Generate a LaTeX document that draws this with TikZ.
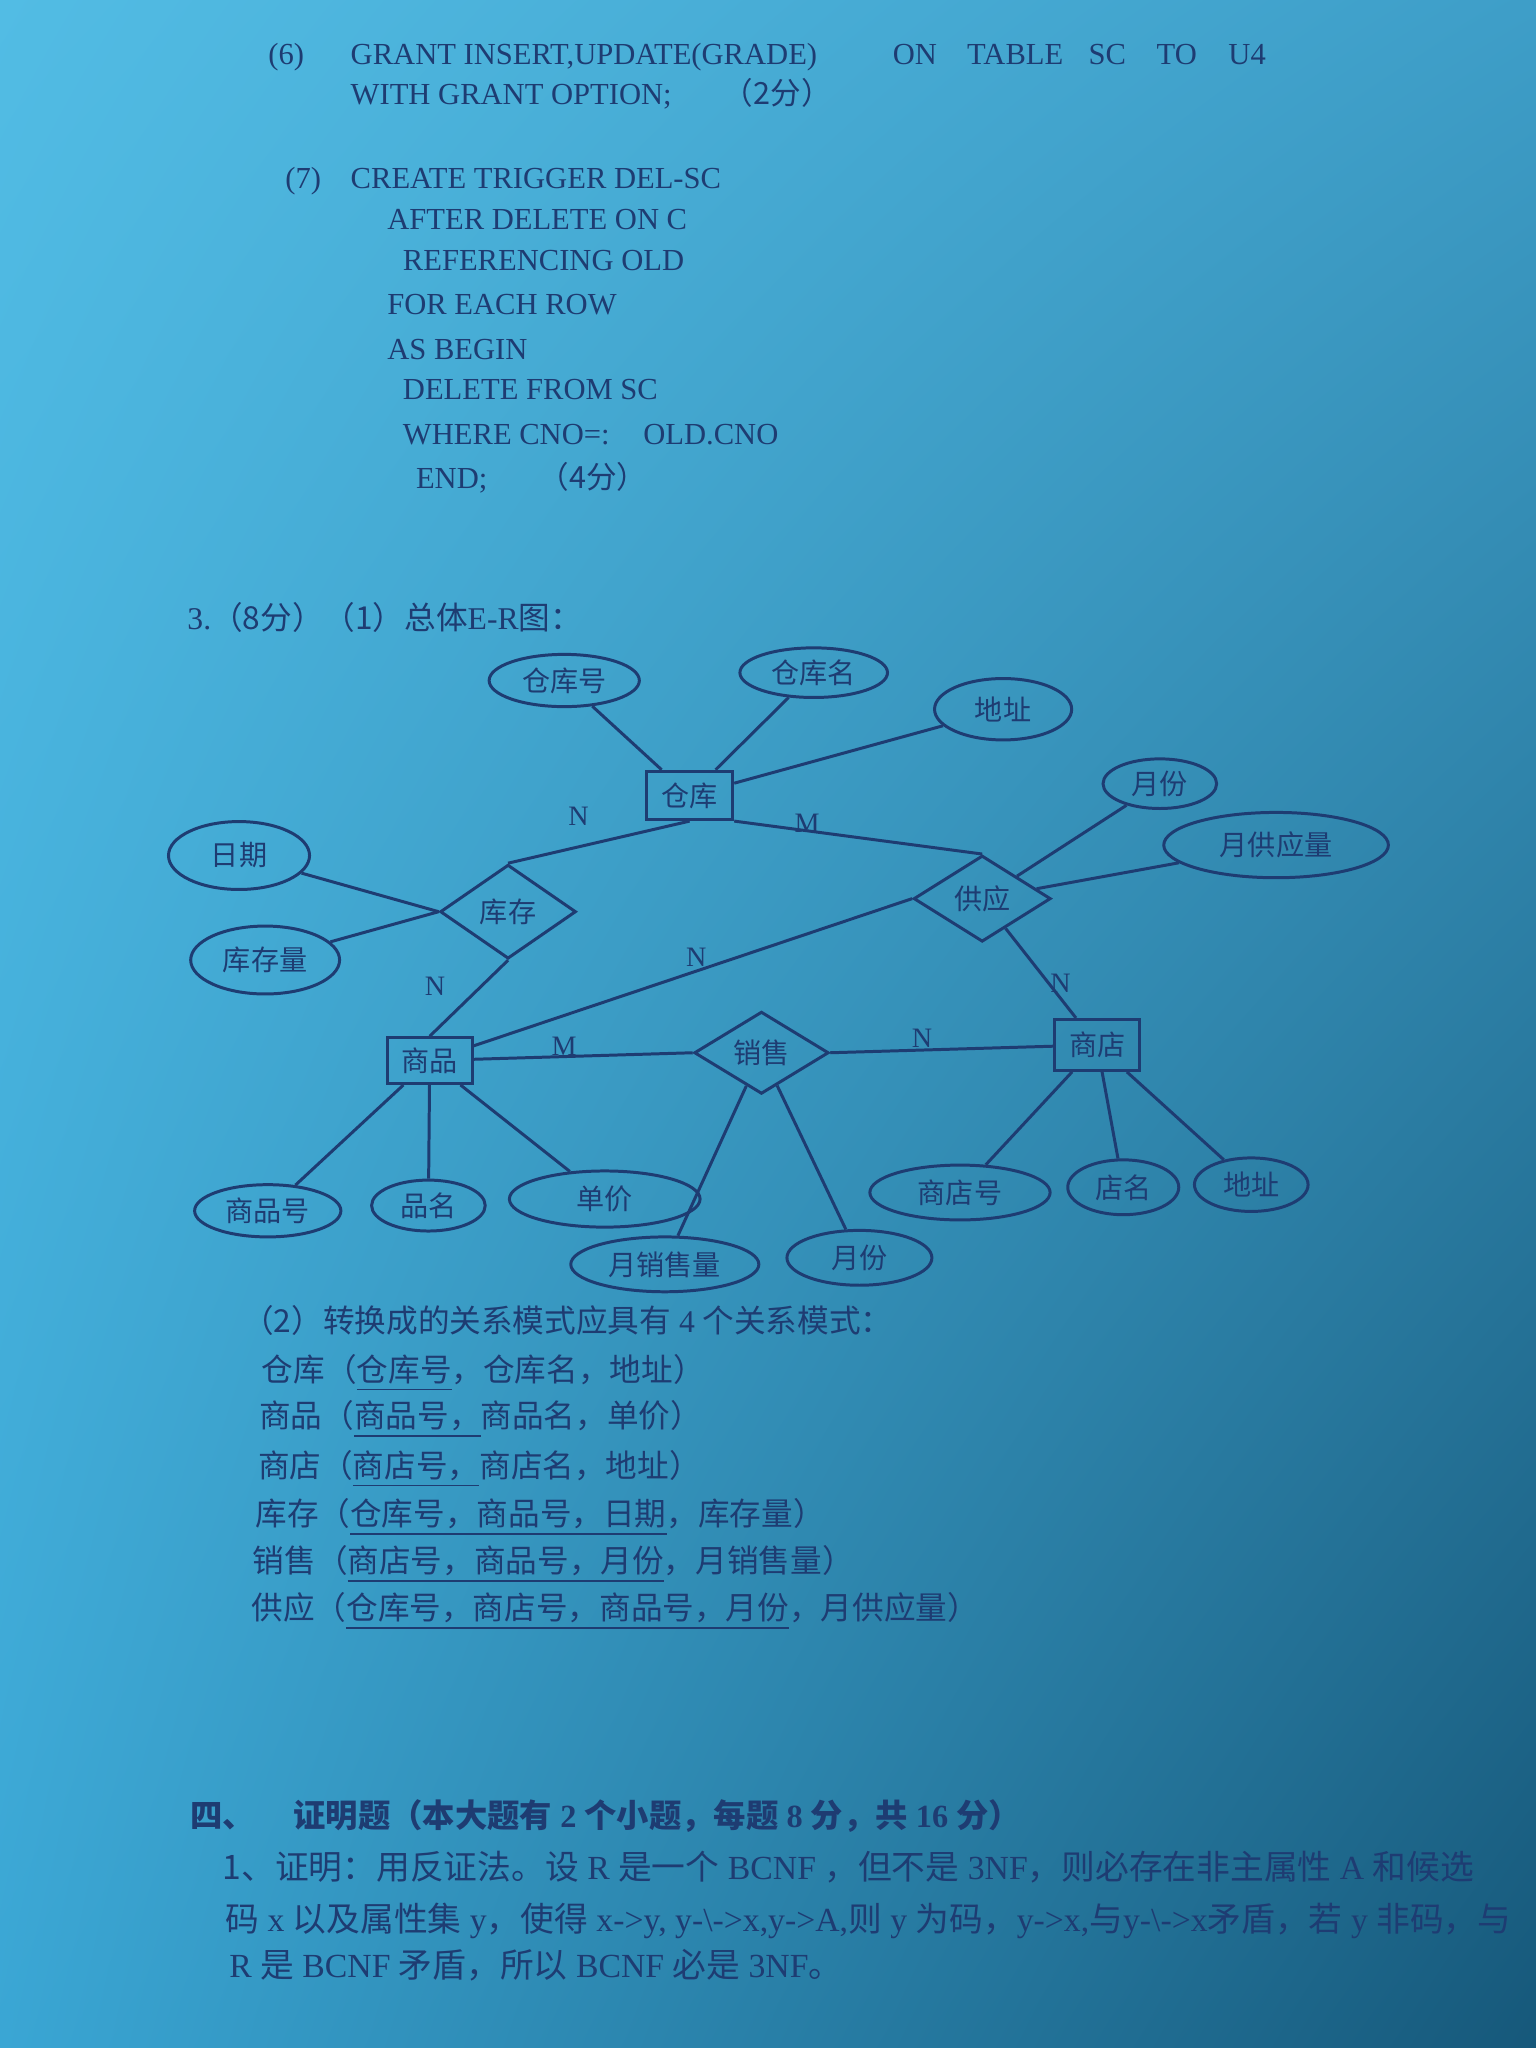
\documentclass[tikz,border=0pt]{standalone}
\usepackage{fontspec}
\setmainfont{Liberation Serif}
\newfontfamily\cjk{Noto Sans CJK SC}
\usetikzlibrary{shapes.geometric,shadings}
\definecolor{ink}{RGB}{30,60,114}
\definecolor{paperUL}{RGB}{82,188,228}
\definecolor{paperUR}{RGB}{62,158,200}
\definecolor{paperLL}{RGB}{58,166,212}
\definecolor{paperLR}{RGB}{22,88,122}
\newdimen\pu \pu=0.01306cm
\newcommand\zh[1]{{\cjk #1}}
\begin{document}
\begin{tikzpicture}[x=0.01306cm, y=-0.01306cm,
    ln/.style={draw=ink, line width=0.85pt},
    attr/.style={ln, ellipse, inner sep=0pt, text=ink, font=\cjk\fontsize{8}{9}\selectfont},
    ent/.style={ln, rectangle, inner sep=0pt, minimum width=66\pu, minimum height=37\pu, text=ink, font=\cjk\fontsize{8}{9}\selectfont},
    rel/.style={ln, diamond, inner sep=0pt, text=ink, font=\cjk\fontsize{8}{9}\selectfont},
    card/.style={text=ink, inner sep=0pt, font=\fontsize{8}{9}\selectfont},
    code/.style={anchor=base west, text=ink, inner sep=0pt, font=\fontsize{8.7}{10}\selectfont},
    txt/.style={anchor=base west, text=ink, inner sep=0pt, font=\fontsize{9}{11}\selectfont}]
  % paper
  \shade[upper left=paperUL, upper right=paperUR, lower left=paperLL, lower right=paperLR] (0,0) rectangle (1176,1568);
  \useasboundingbox (0,0) rectangle (1176,1568);

  % SQL answers
  \node[code] (g6) at (205,49) {(6)};
  \node[code] (grant) at (268,49) {GRANT INSERT,UPDATE(GRADE)};
  \node[code] (on) at (683,49) {ON};
  \node[code] (table) at (740,49) {TABLE};
  \node[code] (sc) at (833,49) {SC};
  \node[code] (to) at (885,49) {TO};
  \node[code] (u4) at (940,49) {U4};
  \node[code] (wgo) at (268,80) {WITH GRANT OPTION;};
  \node[code] (pts2) at (553,80) {\zh{（2分）}};
  \node[code] (t7) at (218,144) {(7)};
  \node[code] (trig) at (268,144) {CREATE TRIGGER DEL-SC};
  \node[code] (adel) at (296,176) {AFTER DELETE ON C};
  \node[code] (refold) at (308,207) {REFERENCING OLD};
  \node[code] (each) at (296,241) {FOR EACH ROW};
  \node[code] (begin) at (296,275) {AS BEGIN};
  \node[code] (delsc) at (308,306) {DELETE FROM SC};
  \node[code] (where) at (308,340) {WHERE CNO=:};
  \node[code] (oldcno) at (492,340) {OLD.CNO};
  \node[code] (endsq) at (318,374) {END;};
  \node[code] (pts4) at (412,374) {\zh{（4分）}};

  \node[txt] (q3) at (143,482) {3.\zh{（8分）（1）总体}E-R\zh{图：}};

  % entities
  \node[ent] (ck) at (528,609) {仓库};
  \node[ent, minimum width=65\pu, minimum height=35\pu] (sp) at (329,812) {商品};
  \node[ent, minimum width=65\pu, minimum height=39\pu] (sd) at (840,800) {商店};

  % relationships
  \node[rel, minimum width=104\pu, minimum height=72\pu] (kc) at (389,698) {库存};
  \node[rel, minimum width=105\pu, minimum height=66\pu] (gy) at (752,688) {供应};
  \node[rel, minimum width=103\pu, minimum height=62\pu] (xs) at (583,806) {销售};

  % attributes
  \node[attr, minimum width=115\pu, minimum height=40\pu] (ckh) at (432,521) {仓库号};
  \node[attr, minimum width=113\pu, minimum height=38\pu] (ckm) at (623,515) {仓库名};
  \node[attr, minimum width=105\pu, minimum height=47\pu] (dz1) at (768,543) {地址};
  \node[attr, minimum width=87\pu, minimum height=38\pu] (yf1) at (888,600) {月份};
  \node[attr, minimum width=172\pu, minimum height=50\pu] (ygl) at (977,647) {月供应量};
  \node[attr, minimum width=108\pu, minimum height=52\pu] (rq) at (183,655) {日期};
  \node[attr, minimum width=114\pu, minimum height=52\pu] (kcl) at (203,735) {库存量};
  \node[attr, minimum width=112\pu, minimum height=40\pu] (sph) at (205,927) {商品号};
  \node[attr, minimum width=87\pu, minimum height=39\pu] (pm) at (328,923) {品名};
  \node[attr, minimum width=146\pu, minimum height=43\pu] (dj) at (463,918) {单价};
  \node[attr, minimum width=144\pu, minimum height=42\pu] (xsl) at (509,968) {月销售量};
  \node[attr, minimum width=111\pu, minimum height=42\pu] (yf2) at (658,963) {月份};
  \node[attr, minimum width=138\pu, minimum height=42\pu] (sdh) at (735,913) {商店号};
  \node[attr, minimum width=85\pu, minimum height=42\pu] (dm) at (860,909) {店名};
  \node[attr, minimum width=87\pu, minimum height=41\pu] (dz2) at (958,907) {地址};

  % connectors
  \draw[ln] (ckh) -- (ck);
  \draw[ln] (ckm) -- (ck);
  \draw[ln] (dz1) -- (ck);
  \draw[ln] (ck.south) -- (kc.north);
  \draw[ln] (ck.south east) -- (gy.north);
  \draw[ln] (rq) -- (kc.west);
  \draw[ln] (kcl) -- (kc.west);
  \draw[ln] (kc.south) -- (sp.north);
  \draw[ln] (sp) -- (gy.west);
  \draw[ln] (sp) -- (xs.west);
  \draw[ln] (xs.east) -- (sd);
  \draw[ln] (gy) -- (sd);
  \draw[ln] (gy) -- (yf1);
  \draw[ln] (gy) -- (ygl);
  \draw[ln] (sp) -- (sph);
  \draw[ln] (sp) -- (pm);
  \draw[ln] (sp) -- (dj);
  \draw[ln] (xs) -- (xsl);
  \draw[ln] (xs) -- (yf2);
  \draw[ln] (sd) -- (sdh);
  \draw[ln] (sd) -- (dm);
  \draw[ln] (sd) -- (dz2);

  % cardinalities
  \node[card] (n1) at (443,625) {N};
  \node[card] (m1) at (618,630) {M};
  \node[card] (n2) at (333,755) {N};
  \node[card] (n3) at (533,733) {N};
  \node[card] (n4) at (812,753) {N};
  \node[card] (m2) at (432,801) {M};
  \node[card] (n5) at (706,795) {N};

  % relation schemas
  \node[txt] (q2) at (185,1020) {\zh{（2）转换成的关系模式应具有} 4 \zh{个关系模式：}};
  \node[txt] (r1) at (200,1058) {\zh{仓库（\underline{仓库号}，仓库名，地址）}};
  \node[txt] (r2) at (198,1093) {\zh{商品（\underline{商品号，}商品名，单价）}};
  \node[txt] (r3) at (197,1131) {\zh{商店（\underline{商店号，}商店名，地址）}};
  \node[txt] (r4) at (195,1168) {\zh{库存（\underline{仓库号，商品号，日期}，库存量）}};
  \node[txt] (r5) at (193,1204) {\zh{销售（\underline{商店号，商品号，月份}，月销售量）}};
  \node[txt] (r6) at (192,1240) {\zh{供应（\underline{仓库号，商店号，商品号，月份}，月供应量）}};

  % proof
  \node[txt, font=\bfseries\fontsize{9.2}{12}\selectfont] (q4) at (145,1399) {\zh{四、}\hspace{1.2em}\zh{证明题（本大题有} 2 \zh{个小题，每题} 8 \zh{分，共} 16 \zh{分）}};
  \node[txt, font=\fontsize{9.6}{12}\selectfont] (p1) at (170,1439) {\zh{1、证明：用反证法。设} R \zh{是一个} BCNF \zh{，但不是} 3NF\zh{，则必存在非主属性} A \zh{和候选}};
  \node[txt, font=\fontsize{9.6}{12}\selectfont] (p2) at (172,1479) {\zh{码} x \zh{以及属性集} y\zh{，使得} x->y, y-\textbackslash->x,y->A,\zh{则} y \zh{为码，}y->x,\zh{与}y-\textbackslash->x\zh{矛盾，若} y \zh{非码，与}};
  \node[txt, font=\fontsize{9.6}{12}\selectfont] (p3) at (175,1514) {R \zh{是} BCNF \zh{矛盾，所以} BCNF \zh{必是} 3NF\zh{。}};
\end{tikzpicture}
\end{document}
